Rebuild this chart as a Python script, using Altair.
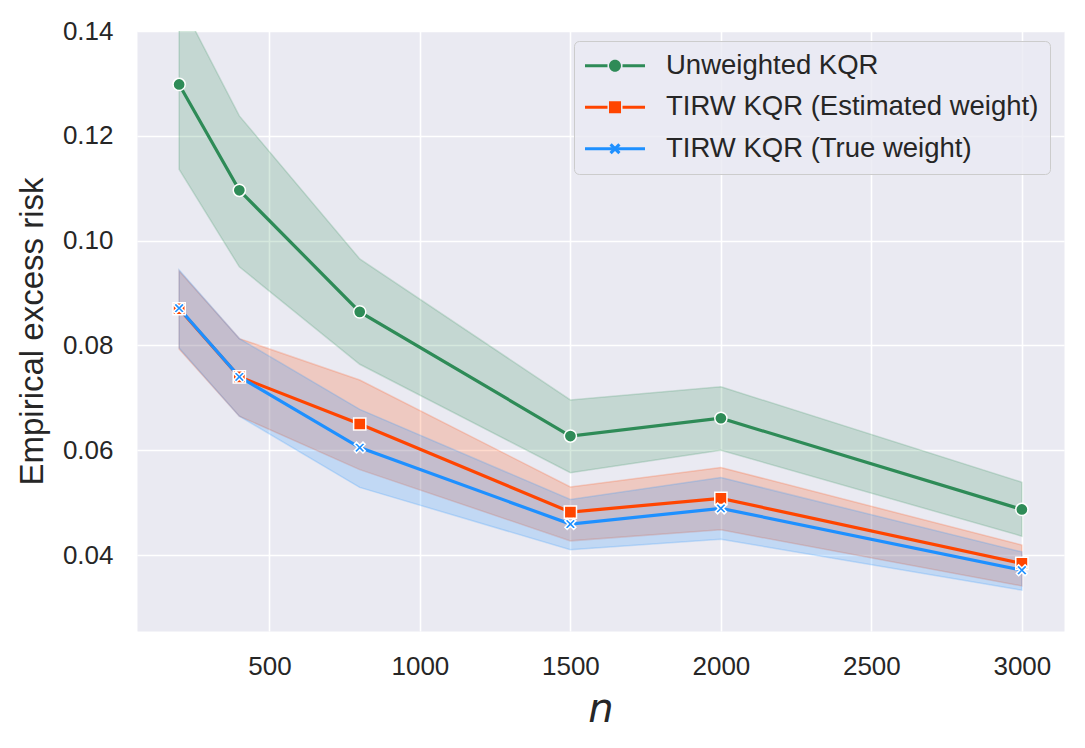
import altair as alt
import pandas as pd

# ---- data ----
n_values = [200, 400, 800, 1500, 2000, 3000]
series_names = ["Unweighted KQR", "TIRW KQR (Estimated weight)", "TIRW KQR (True weight)"]
series_codes = ["m0", "m1", "m2"]
series_colors = ["#2E8B57", "#FF4500", "#1E90FF"]

unw_mean = [0.1298, 0.1096, 0.0864, 0.0627, 0.0661, 0.0487]
unw_lo = [0.1136, 0.0950, 0.0764, 0.0557, 0.0600, 0.0436]
unw_hi = [0.1460, 0.1238, 0.0965, 0.0696, 0.0721, 0.0539]

est_mean = [0.0870, 0.0740, 0.0650, 0.0482, 0.0508, 0.0384]
est_lo = [0.0793, 0.0665, 0.0563, 0.0427, 0.0448, 0.0341]
est_hi = [0.0942, 0.0813, 0.0734, 0.0530, 0.0567, 0.0419]

true_mean = [0.0871, 0.0740, 0.0605, 0.0459, 0.0489, 0.0371]
true_lo = [0.0795, 0.0665, 0.0529, 0.0410, 0.0430, 0.0333]
true_hi = [0.0944, 0.0813, 0.0678, 0.0506, 0.0548, 0.0406]

x_ticks = [500, 1000, 1500, 2000, 2500, 3000]
y_ticks = [0.04, 0.06, 0.08, 0.10, 0.12, 0.14]

# data-point marker shapes (circle, square, filled x) as unit paths
circle_path = "M1.03,0A1.03,1.03,0,1,1,-1.03,0A1.03,1.03,0,1,1,1.03,0Z"
square_path = "M-1.03,-1.03L1.03,-1.03L1.03,1.03L-1.03,1.03Z"
x_path = ("M-0.55,0.92L0,0.37L0.55,0.92L0.92,0.55L0.37,0L0.92,-0.55L0.55,-0.92"
          "L0,-0.37L-0.55,-0.92L-0.92,-0.55L-0.37,0L-0.92,0.55Z")
series_shapes = [circle_path, square_path, x_path]

# legend glyphs: a line segment with the marker in the middle
seg_l = "M-2.29,-0.27L1.46,-0.27L1.46,0.27L-2.29,0.27Z"
seg_r = "M3.96,-0.27L7.71,-0.27L7.71,0.27L3.96,0.27Z"
leg_circle = seg_l + seg_r + "M3.71,0A1,1,0,1,1,1.71,0A1,1,0,1,1,3.71,0Z"
leg_square = seg_l + seg_r + "M1.71,-1L3.71,-1L3.71,1L1.71,1Z"
leg_x = ("M-2.29,-0.27L2.07,-0.27L2.34,0L2.07,0.27L-2.29,0.27Z"
         "M7.71,-0.27L3.35,-0.27L3.08,0L3.35,0.27L7.71,0.27Z"
         "M2.16,0.92L2.71,0.37L3.26,0.92L3.63,0.55L3.08,0L3.63,-0.55L3.26,-0.92"
         "L2.71,-0.37L2.16,-0.92L1.79,-0.55L2.34,0L1.79,0.55Z")
legend_shapes = [leg_circle, leg_square, leg_x]
# same names with a zero-width space, for the legend frame
frame_names = [s + "\u200b" for s in series_names]

rows = []
for name, code, fname, means, los, his in zip(series_names, series_codes, frame_names,
                                              [unw_mean, est_mean, true_mean],
                                              [unw_lo, est_lo, true_lo],
                                              [unw_hi, est_hi, true_hi]):
    for x, m, lo, hi in zip(n_values, means, los, his):
        rows.append({"n": x, "sp": code, "lg": name, "lb": fname,
                     "mean": m, "lo": lo, "hi": hi})
df = pd.DataFrame(rows)

xs = alt.Scale(domain=[60, 3140], nice=False, zero=False)
ys = alt.Scale(domain=[0.0255, 0.14], nice=False, zero=False)

x_enc = alt.X("n:Q", scale=xs,
              axis=alt.Axis(values=x_ticks, format="d", title="n",
                            titleFont="DejaVu Sans", titleFontStyle="italic",
                            titleFontSize=40, titleFontWeight="normal",
                            labelPadding=22, titlePadding=10, labelFlush=False))
y_axis = alt.Axis(values=y_ticks, format=".2f", title="Empirical excess risk",
                  titleFont="Liberation Sans", titleFontSize=33,
                  titleFontWeight="normal", labelPadding=24, titlePadding=13)

code_colors = alt.Scale(domain=series_codes, range=series_colors)

common = dict(title=None, orient="none", legendX=437, legendY=10, padding=11,
              rowPadding=12.5, labelFontSize=27.5, labelFont="Liberation Sans",
              labelOffset=53.5, labelLimit=700, symbolStrokeWidth=1.5)

main_legend = alt.Legend(symbolSize=144, symbolStrokeColor="transparent",
                         labelColor="#262626", **common)

frame_legend = alt.Legend(symbolFillColor="transparent",
                          symbolStrokeColor="transparent", symbolOpacity=0,
                          labelOpacity=0,
                          fillColor="rgba(234,234,242,0.8)", strokeColor="#CCCCCC",
                          cornerRadius=5, **common)

base = alt.Chart(df)

band = base.mark_area(fillOpacity=0.2, strokeOpacity=0.2, strokeWidth=1.5,
                      clip=True).encode(
    x=x_enc,
    y=alt.Y("lo:Q", scale=ys, axis=y_axis),
    y2="hi:Q",
    color=alt.Color("sp:N", scale=code_colors, legend=None),
    stroke=alt.Stroke("sp:N", scale=alt.Scale(domain=series_codes, range=series_colors),
                      legend=None),
)

line = base.mark_line(strokeWidth=3.2, clip=True).encode(
    x=x_enc,
    y=alt.Y("mean:Q", scale=ys, axis=y_axis),
    color=alt.Color("sp:N", scale=code_colors, legend=None),
)

point_layers = [
    base.transform_filter(alt.datum.sp == code).mark_point(
        filled=True, opacity=1, size=140, shape=shape, fill=color,
        stroke="white", strokeWidth=1.5, clip=True).encode(
        x=x_enc,
        y=alt.Y("mean:Q", scale=ys, axis=y_axis),
    )
    for code, shape, color in zip(series_codes, series_shapes, series_colors)
]

# layers that only carry the legend frame and legend entries (clipped away)
frame_layer = base.mark_point(filled=True, fill="transparent", stroke="transparent",
                              opacity=1, clip=True).encode(
    x=alt.value(-1000), y=alt.value(-1000),
    size=alt.Size("lb:N", scale=alt.Scale(domain=frame_names, range=[144, 144, 144]),
                  legend=frame_legend),
)

legend_layer = base.mark_point(filled=True, opacity=1, clip=True).encode(
    x=alt.value(-1000), y=alt.value(-1000),
    fill=alt.Fill("lg:N", scale=alt.Scale(domain=series_names, range=series_colors),
                  legend=main_legend),
    shape=alt.Shape("lg:N", scale=alt.Scale(domain=series_names, range=legend_shapes),
                    legend=main_legend),
)

chart = alt.layer(band, line, *point_layers, frame_layer, legend_layer).properties(
    width=927, height=600,
    padding={"left": 129, "top": 23, "right": 10, "bottom": 100},
    autosize=alt.AutoSizeParams(type="none"),
).configure_view(
    fill="#EAEAF2", stroke="transparent"
).configure_axis(
    grid=True, gridColor="white", gridWidth=1.6, domain=False, ticks=False,
    tickSize=0, labelFont="Liberation Sans", labelFontSize=26,
    labelColor="#262626", titleColor="#262626"
)

chart.save("out.html", embed_options={"renderer": "svg", "actions": False})
